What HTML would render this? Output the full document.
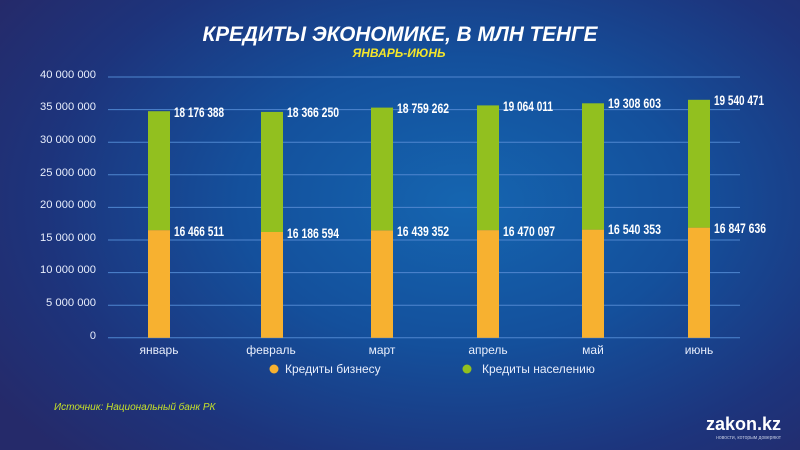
<!DOCTYPE html>
<html><head><meta charset="utf-8"><style>
html,body{margin:0;padding:0;width:800px;height:450px;overflow:hidden}
body{background:radial-gradient(ellipse 70% 80% at 58% 45%,#1565b0 0%,#14509c 40%,#1d347c 75%,#252a6a 100%);font-family:"Liberation Sans",sans-serif}
svg text{font-family:"Liberation Sans",sans-serif}
</style></head><body>
<svg width="800" height="450" viewBox="0 0 800 450">
<text x="400" y="41" text-anchor="middle" fill="#fff" font-size="21" font-weight="bold" font-style="italic" textLength="395" lengthAdjust="spacingAndGlyphs">КРЕДИТЫ ЭКОНОМИКЕ, В МЛН ТЕНГЕ</text>
<text x="399" y="57" text-anchor="middle" fill="#f5e62a" font-size="12" font-weight="bold" font-style="italic">ЯНВАРЬ-ИЮНЬ</text>
<g stroke="#4f86cf" stroke-width="1">
<line x1="108" x2="740" y1="77" y2="77"/><line x1="108" x2="740" y1="109.6" y2="109.6"/><line x1="108" x2="740" y1="142.2" y2="142.2"/><line x1="108" x2="740" y1="174.8" y2="174.8"/><line x1="108" x2="740" y1="207.4" y2="207.4"/><line x1="108" x2="740" y1="240" y2="240"/><line x1="108" x2="740" y1="272.6" y2="272.6"/><line x1="108" x2="740" y1="305.2" y2="305.2"/><line x1="108" x2="740" y1="337.8" y2="337.8"/>
</g>
<g fill="#e8eefc" font-size="11" text-anchor="end">
<text x="96" y="78" textLength="56" lengthAdjust="spacingAndGlyphs">40 000 000</text><text x="96" y="110" textLength="56" lengthAdjust="spacingAndGlyphs">35 000 000</text><text x="96" y="143" textLength="56" lengthAdjust="spacingAndGlyphs">30 000 000</text><text x="96" y="176" textLength="56" lengthAdjust="spacingAndGlyphs">25 000 000</text><text x="96" y="208" textLength="56" lengthAdjust="spacingAndGlyphs">20 000 000</text><text x="96" y="241" textLength="56" lengthAdjust="spacingAndGlyphs">15 000 000</text><text x="96" y="273" textLength="56" lengthAdjust="spacingAndGlyphs">10 000 000</text><text x="96" y="306" textLength="50" lengthAdjust="spacingAndGlyphs">5 000 000</text><text x="96" y="339">0</text>
</g>
<g>
<rect x="148" y="230.1" width="22" height="107.7" fill="#f7b130"/><rect x="148" y="111.2" width="22" height="118.9" fill="#92c01f"/>
<rect x="261" y="232" width="22" height="105.8" fill="#f7b130"/><rect x="261" y="111.9" width="22" height="120.1" fill="#92c01f"/>
<rect x="371" y="230.3" width="22" height="107.5" fill="#f7b130"/><rect x="371" y="107.6" width="22" height="122.7" fill="#92c01f"/>
<rect x="477" y="230.1" width="22" height="107.7" fill="#f7b130"/><rect x="477" y="105.4" width="22" height="124.7" fill="#92c01f"/>
<rect x="582" y="229.6" width="22" height="108.2" fill="#f7b130"/><rect x="582" y="103.3" width="22" height="126.3" fill="#92c01f"/>
<rect x="688" y="227.6" width="22" height="110.2" fill="#f7b130"/><rect x="688" y="99.8" width="22" height="127.8" fill="#92c01f"/>
</g>
<g fill="#fff" font-size="14" font-weight="bold">
<text x="174" y="117" textLength="50" lengthAdjust="spacingAndGlyphs">18 176 388</text><text x="174" y="236" textLength="50" lengthAdjust="spacingAndGlyphs">16 466 511</text>
<text x="287" y="117" textLength="52" lengthAdjust="spacingAndGlyphs">18 366 250</text><text x="287" y="238" textLength="52" lengthAdjust="spacingAndGlyphs">16 186 594</text>
<text x="397" y="113" textLength="52" lengthAdjust="spacingAndGlyphs">18 759 262</text><text x="397" y="236" textLength="52" lengthAdjust="spacingAndGlyphs">16 439 352</text>
<text x="503" y="111" textLength="50" lengthAdjust="spacingAndGlyphs">19 064 011</text><text x="503" y="236" textLength="52" lengthAdjust="spacingAndGlyphs">16 470 097</text>
<text x="608" y="108" textLength="53" lengthAdjust="spacingAndGlyphs">19 308 603</text><text x="608" y="234" textLength="53" lengthAdjust="spacingAndGlyphs">16 540 353</text>
<text x="714" y="105" textLength="50" lengthAdjust="spacingAndGlyphs">19 540 471</text><text x="714" y="233" textLength="52" lengthAdjust="spacingAndGlyphs">16 847 636</text>
</g>
<g fill="#e8eefc" font-size="12" text-anchor="middle">
<text x="159" y="354">январь</text><text x="271" y="354">февраль</text><text x="382" y="354">март</text><text x="488" y="354">апрель</text><text x="593" y="354">май</text><text x="699" y="354">июнь</text>
</g>
<circle cx="274" cy="369" r="4.5" fill="#f7b130"/><text x="285" y="373" fill="#e8eefc" font-size="12">Кредиты бизнесу</text>
<circle cx="467" cy="369" r="4.5" fill="#92c01f"/><text x="482" y="373" fill="#e8eefc" font-size="12">Кредиты населению</text>
<text x="54" y="410" fill="#c6e02a" font-size="10" font-style="italic">Источник: Национальный банк РК</text>
<text x="781" y="430" text-anchor="end" fill="#fff" font-size="18" font-weight="bold">zakon.kz</text>
<text x="781" y="439" text-anchor="end" fill="#c0c8e0" font-size="5">новости, которым доверяют</text>
</svg>
</body></html>
